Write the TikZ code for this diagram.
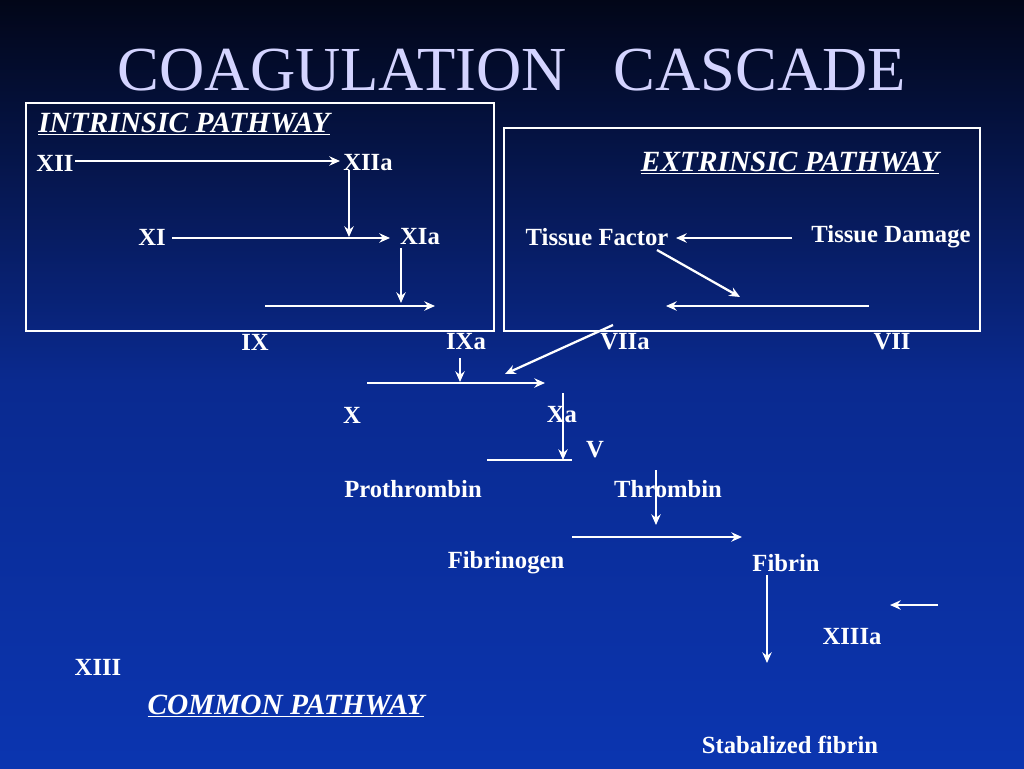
\documentclass[tikz,border=0pt]{standalone}
\usepackage{fontspec}
\setmainfont{Liberation Serif}
\usetikzlibrary{arrows.meta}
\definecolor{titlec}{HTML}{D4D4FF}
\definecolor{bgtop}{HTML}{020618}
\definecolor{bgmid}{HTML}{0A2A90}
\definecolor{bgbot}{HTML}{0B35B0}
\begin{document}
\begin{tikzpicture}[x=0.75pt,y=-0.75pt,
  lbl/.style={text=white,font=\fontsize{18.5}{20}\selectfont\bfseries,inner sep=0pt},
  hd/.style={text=white,font=\fontsize{22}{24}\selectfont\bfseries\itshape,inner sep=0pt},
  ar/.style={white,line width=1.7pt,-{Stealth[length=8pt,width=7pt]}},
  bx/.style={draw=white,line width=0.8pt}]
\shade[top color=bgtop,bottom color=bgbot,middle color=bgmid] (0,0) rectangle (1024,768);
\useasboundingbox (0,0) rectangle (1024,768);
\node[text=titlec,font=\fontsize{47}{50}\selectfont] (title) at (512,70) {COAGULATION\ \ \ CASCADE};
\draw[bx] (26,103) rectangle (494,331);
\draw[bx] (504,128) rectangle (980,331);
\node[hd,anchor=west] (ip) at (38,124) {\underline{INTRINSIC PATHWAY}};
\node[hd] (ep) at (790,163) {\underline{EXTRINSIC PATHWAY}};
\node[hd] (cp) at (286,706) {\underline{COMMON PATHWAY}};
\node[lbl] (xii) at (55,163) {XII};
\node[lbl] (xiia) at (368,163) {XIIa};
\node[lbl] (xi) at (152,237) {XI};
\node[lbl] (xia) at (420,237) {XIa};
\node[lbl] (tf) at (597,237) {Tissue Factor};
\node[lbl] (td) at (891,237) {Tissue Damage};
\node[lbl] (ix) at (255,342) {IX};
\node[lbl] (ixa) at (466,342) {IXa};
\node[lbl] (viia) at (625,342) {VIIa};
\node[lbl] (vii) at (892,342) {VII};
\node[lbl] (x) at (352,415) {X};
\node[lbl] (xa) at (562,415) {Xa};
\node[lbl] (v) at (595,450) {V};
\node[lbl] (pro) at (413,489) {Prothrombin};
\node[lbl] (thr) at (668,489) {Thrombin};
\node[lbl] (fgn) at (506,563) {Fibrinogen};
\node[lbl] (fib) at (786,563) {Fibrin};
\node[lbl] (xiiia) at (852,637) {XIIIa};
\node[lbl] (xiii) at (98,667) {XIII};
\node[lbl] (sf) at (790,745) {Stabalized fibrin};
\coordinate (a1) at (75,161); \coordinate (a2) at (340,161);
\coordinate (b1) at (349,170); \coordinate (b2) at (349,237);
\coordinate (c1) at (172,238); \coordinate (c2) at (390,238);
\coordinate (d1) at (401,248); \coordinate (d2) at (401,303);
\coordinate (e1) at (265,306); \coordinate (e2) at (435,306);
\coordinate (f1) at (792,238); \coordinate (f2) at (676,238);
\coordinate (g1) at (657,250); \coordinate (g2) at (740,297);
\coordinate (h1) at (869,306); \coordinate (h2) at (666,306);
\coordinate (i1) at (613,325); \coordinate (i2) at (505,374);
\coordinate (j1) at (460,358); \coordinate (j2) at (460,382);
\coordinate (k1) at (367,383); \coordinate (k2) at (545,383);
\coordinate (l1) at (563,393); \coordinate (l2) at (563,460);
\coordinate (m1) at (487,460); \coordinate (m2) at (572,460);
\coordinate (n1) at (656,470); \coordinate (n2) at (656,525);
\coordinate (o1) at (572,537); \coordinate (o2) at (742,537);
\coordinate (p1) at (767,575); \coordinate (p2) at (767,663);
\coordinate (q1) at (938,605); \coordinate (q2) at (890,605);
\foreach \s in {a,b,c,d,e,f,g,h,i,j,k,l,n,o,p,q}{\draw[ar] (\s1) -- (\s2);}
\draw[white,line width=1.7pt] (m1) -- (m2);
\end{tikzpicture}
\end{document}
